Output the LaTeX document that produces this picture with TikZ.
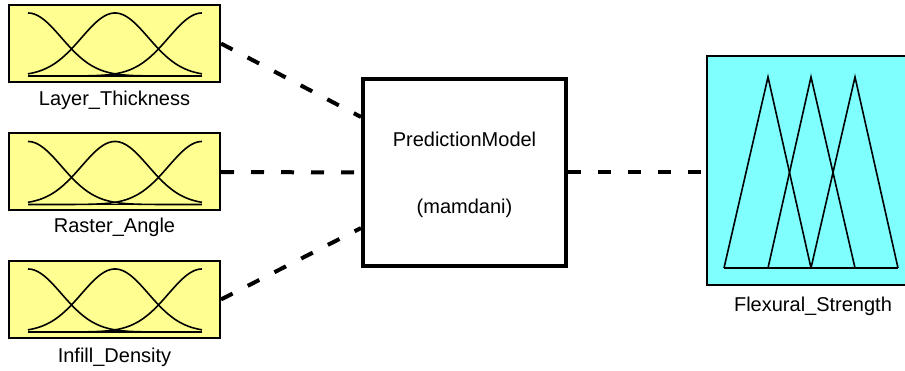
\documentclass[tikz,border=0pt]{standalone}
\usepackage{fontspec}
\setmainfont{Liberation Sans}
\definecolor{fyellow}{RGB}{255,255,145}
\definecolor{fcyan}{RGB}{128,255,255}
\tikzset{
  inbox/.style={draw=black, line width=2pt, fill=fyellow, minimum width=211pt, minimum height=77pt, inner sep=0pt},
  mfcurve/.style={line width=1.6pt, black},
  conn/.style={line width=4pt, dash pattern=on 13pt off 17pt},
  lbl/.style={font=\fontsize{20}{22}\selectfont, anchor=base, inner sep=0pt},
  clbl/.style={font=\fontsize{20}{22}\selectfont, anchor=base, inner sep=0pt},
  modelbox/.style={draw=black, line width=4pt, fill=white, minimum width=203pt, minimum height=187pt, inner sep=0pt},
  outbox/.style={fill=fcyan, minimum width=198pt, minimum height=229pt, inner sep=0pt, anchor=north west}
}
\newcommand{\gaussmf}[1]{%
  \begin{scope}[shift={(#1.south west)}]
    \draw[mfcurve] plot[domain=0:1, samples=90] ({20+174*\x}, {-7-63*exp(-((\x*5.194)^2)/2)});
    \draw[mfcurve] plot[domain=0:1, samples=90] ({20+174*\x}, {-7-63*exp(-(((\x-0.5)*5.194)^2)/2)});
    \draw[mfcurve] plot[domain=0:1, samples=90] ({20+174*\x}, {-7-63*exp(-(((\x-1)*5.194)^2)/2)});
    \draw[mfcurve] (20,-7) -- (194,-7);
  \end{scope}}
\begin{document}
\begin{tikzpicture}[x=1pt, y=-1pt]
\useasboundingbox (0,0) rectangle (905,371);
% input boxes
\node[inbox] (lt) at (114.5,43.5) {};
\node[inbox] (ra) at (114.5,172) {};
\node[inbox] (id) at (114.5,299.5) {};
\gaussmf{lt}
\gaussmf{ra}
\gaussmf{id}
\node[lbl] (ltl) at (114.5,106) {Layer\_Thickness};
\node[lbl] (ral) at (114.5,233) {Raster\_Angle};
\node[lbl] (idl) at (114.5,362) {Infill\_Density};
% model box
\node[modelbox] (pm) at (464.5,172.5) {};
\node[clbl] (pmt) at (464.5,147) {PredictionModel};
\node[clbl] (pmm) at (464.5,214) {(mamdani)};
\coordinate (in1) at ([yshift=55.5pt]pm.west);
\coordinate (in3) at ([yshift=-55.5pt]pm.west);
% output box
\node[outbox] (out) at (707,56) {};
\draw[line width=2pt] (out.north east) -- (out.north west) -- (out.south west) -- (out.south east);
\begin{scope}[line width=1.6pt, line join=miter]
  \draw (724,268) -- (768,77) -- (811,268);
  \draw (768,268) -- (811,77) -- (855,268);
  \draw (811,268) -- (855,77) -- (898,268);
  \draw (724,268) -- (898,268);
\end{scope}
\node[lbl] (outl) at (813,312) {Flexural\_Strength};
% connectors
\coordinate (ob) at (out.west |- pm.east);
\draw[conn] (lt.east) -- (in1);
\draw[conn] (ra.east) -- (pm.west);
\draw[conn] (id.east) -- (in3);
\draw[conn] (pm.east) -- (ob);
\end{tikzpicture}
\end{document}
